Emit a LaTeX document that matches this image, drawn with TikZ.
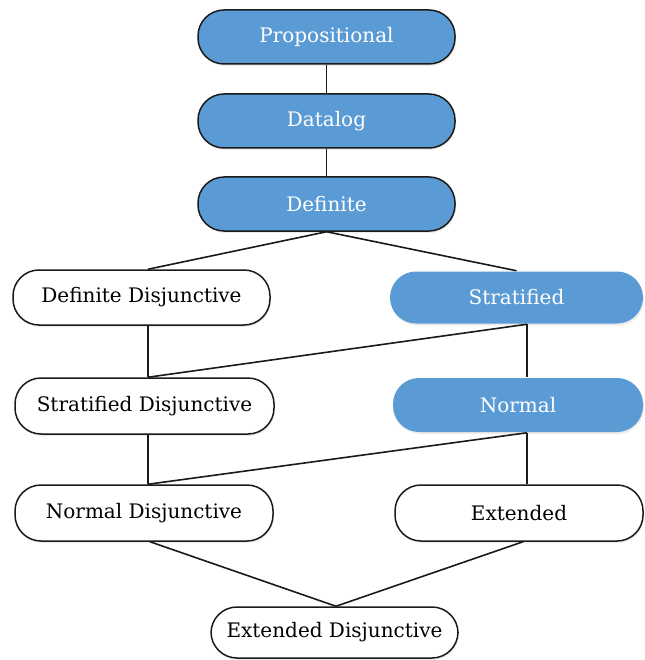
\documentclass[tikz,border=0pt]{standalone}
\usepackage{fontspec}
\setmainfont{DejaVu Serif}
\usetikzlibrary{shadows}
\definecolor{nodeblue}{HTML}{5B9BD5}
\definecolor{edgeink}{HTML}{1A1A1A}
\begin{document}
\begin{tikzpicture}[x=1pt,y=-1pt,
  pill/.style={rounded corners=26pt, inner sep=0pt, line width=1.5pt,
    font=\fontsize{20}{22}\selectfont,
    drop shadow={opacity=0.15, shadow xshift=1pt, shadow yshift=-2pt}},
  bluebox/.style={pill, fill=nodeblue, draw=edgeink, text=white},
  bluesoft/.style={pill, fill=nodeblue, draw=none, text=white},
  whitebox/.style={pill, fill=white, draw=edgeink, text=black},
  link/.style={draw=edgeink, line width=1.6pt}]
\useasboundingbox (0,0) rectangle (644,660);

% upper chain
\node[bluebox, minimum width=257pt, minimum height=54pt] (prop) at (326.5,37) {Propositional};
\node[bluebox, minimum width=257pt, minimum height=54pt] (data) at (326.5,121) {Datalog};
\node[bluebox, minimum width=257pt, minimum height=54pt] (defn) at (326.5,204) {Definite};

% left column
\node[whitebox, minimum width=257pt, minimum height=55pt] (ddis) at (141.5,297.5) {Definite Disjunctive};
\node[whitebox, minimum width=259pt, minimum height=56pt] (sdis) at (144.5,406) {Stratified Disjunctive};
\node[whitebox, minimum width=258pt, minimum height=56pt] (ndis) at (144,513) {Normal Disjunctive};

% right column
\node[bluesoft, minimum width=253pt, minimum height=52pt] (strat) at (516.5,297.5) {Stratified};
\node[bluesoft, minimum width=250pt, minimum height=54pt] (norm) at (518,405) {Normal};
\node[whitebox, minimum width=248pt, minimum height=56pt] (ext) at (519,513) {Extended};

% bottom
\node[whitebox, minimum width=247pt, minimum height=51pt] (edis) at (334.5,632.5) {Extended Disjunctive};

% connectors
\draw[link] (prop.south) -- (data.north);
\draw[link] (data.south) -- (defn.north);
\draw[link] (defn.south) -- ([xshift=6.5pt]ddis.north);
\draw[link] (defn.south) -- (strat.north);
\draw[link] ([xshift=6.5pt]ddis.south) -- ([xshift=3.5pt]sdis.north);
\draw[link] ([xshift=10.5pt]strat.south) -- ([xshift=3.5pt]sdis.north);
\draw[link] ([xshift=10.5pt]strat.south) -- ([xshift=9pt]norm.north);
\draw[link] ([xshift=3.5pt]sdis.south) -- ([xshift=4pt]ndis.north);
\draw[link] ([xshift=9pt]norm.south) -- ([xshift=4pt]ndis.north);
\draw[link] ([xshift=9pt]norm.south) -- ([xshift=8pt]ext.north);
\draw[link] ([xshift=6pt]ndis.south) -- ([xshift=1.5pt]edis.north);
\draw[link] ([xshift=4pt]ext.south) -- ([xshift=1.5pt]edis.north);
\end{tikzpicture}
\end{document}
